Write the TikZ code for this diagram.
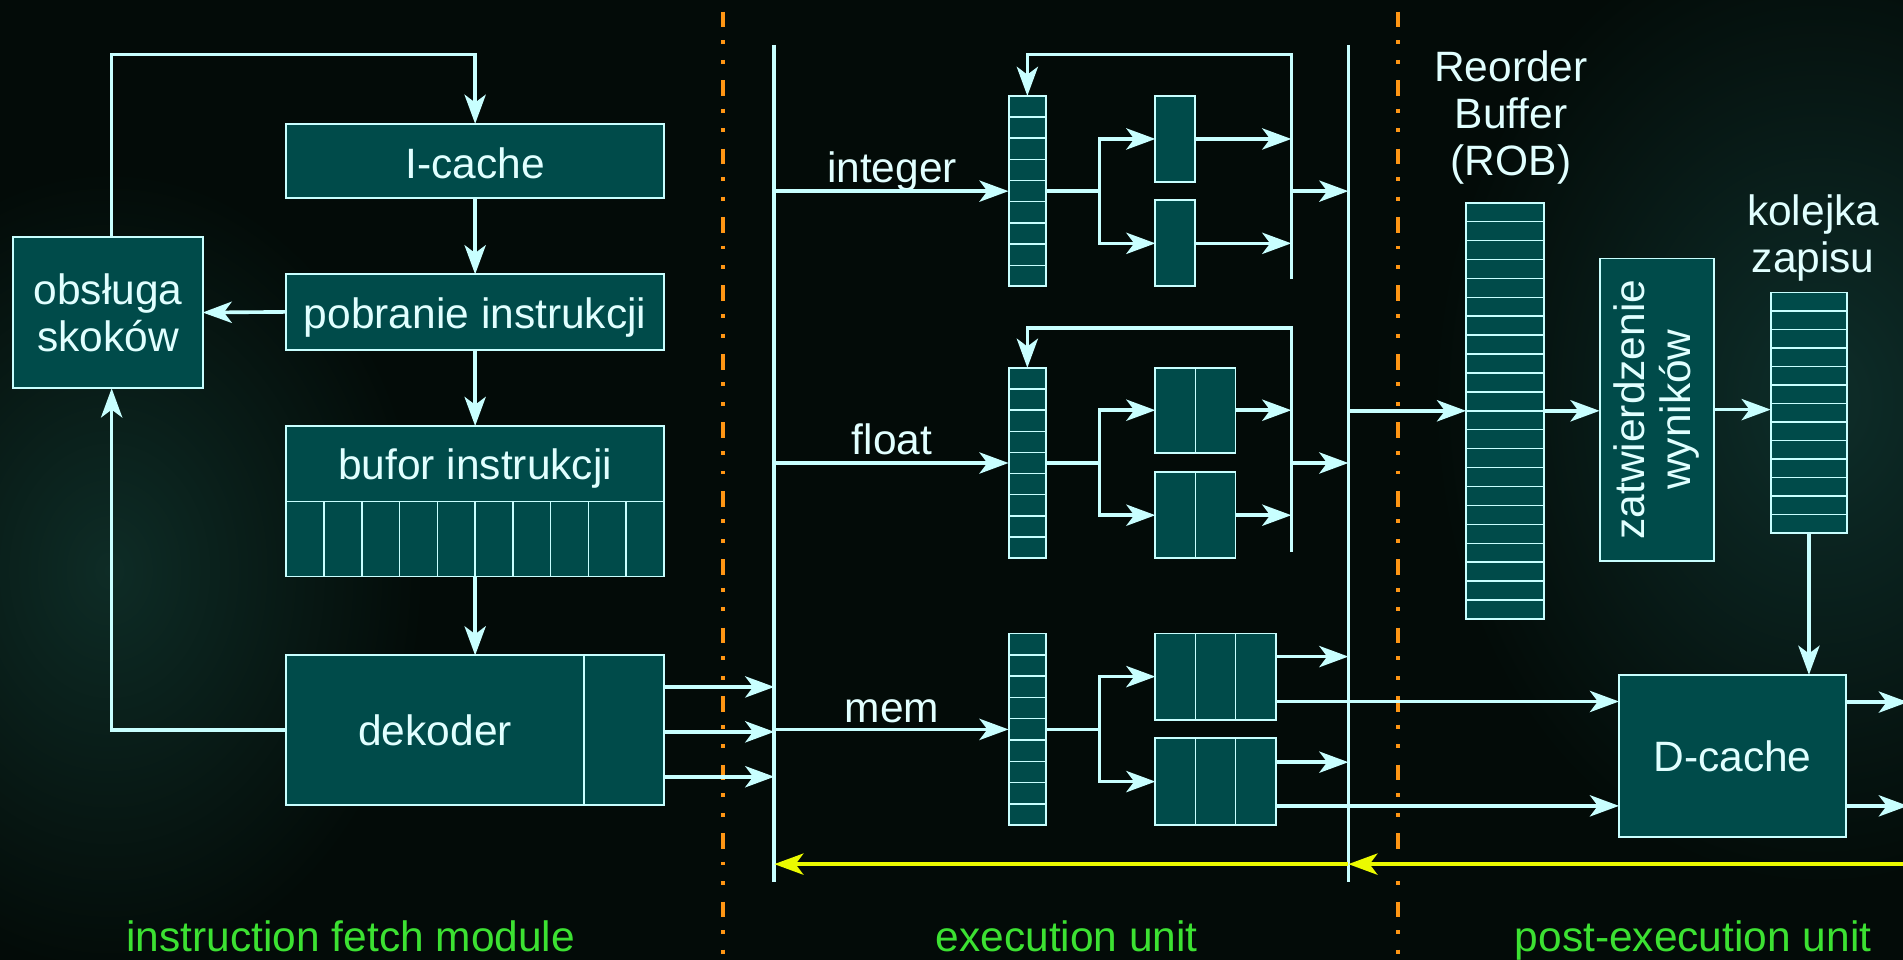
\documentclass[tikz,border=0pt]{standalone}
\usepackage{fontspec}
\setmainfont{Liberation Sans}
\usetikzlibrary{arrows.meta,calc}
\definecolor{bg}{RGB}{3,11,8}
\definecolor{glowL}{RGB}{14,44,38}
\definecolor{glowR}{RGB}{14,46,42}
\definecolor{boxc}{RGB}{0,75,74}
\definecolor{linec}{RGB}{200,255,255}
\definecolor{txtc}{RGB}{225,255,255}
\definecolor{orangec}{RGB}{255,150,20}
\definecolor{yellowc}{RGB}{235,250,0}
\definecolor{greenc}{RGB}{60,225,50}
\begin{document}
\begin{tikzpicture}[x=1pt,y=-1pt,
  every node/.style={font=\fontsize{35}{38.5}\selectfont, text=txtc},
  blk/.style={draw=linec, line width=1.6pt, fill=boxc, inner sep=0pt, outer sep=0pt},
  cell/.style={draw=linec, line width=1.2pt},
  hcells/.style n args={2}{path picture={
    \foreach \k in {1,...,#2}
      \draw[cell] ($(path picture bounding box.north west)!\k/#1!(path picture bounding box.south west)$) --
                  ($(path picture bounding box.north east)!\k/#1!(path picture bounding box.south east)$);}},
  vcells/.style n args={2}{path picture={
    \foreach \k in {1,...,#2}
      \draw[cell] ($(path picture bounding box.north west)!\k/#1!(path picture bounding box.north east)$) --
                  ($(path picture bounding box.south west)!\k/#1!(path picture bounding box.south east)$);}},
  wire/.style={draw=linec, line width=3pt},
  arr/.style={wire, -{Stealth[length=24pt,width=17.5pt,inset=6.5pt]}},
  yarr/.style={draw=yellowc, line width=3pt, -{Stealth[length=24pt,width=17.5pt,inset=6.5pt]}},
  sep/.style={draw=orangec, line width=3.2pt, dash pattern=on 13pt off 10.5pt on 3.2pt off 13pt on 3.2pt off 13.5pt},
  lbl/.style={text=greenc, anchor=base}
]
\useasboundingbox (0,0) rectangle (1568,791);
\fill[bg] (0,0) rectangle (1568,791);
\shade[inner color=glowL, outer color=bg] (90,470) ellipse [x radius=260pt, y radius=330pt];
\shade[inner color=glowR, outer color=bg] (1500,330) ellipse [x radius=320pt, y radius=400pt];

% separators
\draw[sep] (596,9.6) -- (596,791);
\draw[sep] (1152,9.6) -- (1152,791);

% ---------- instruction fetch ----------
\node[blk, minimum width=156pt, minimum height=125pt, align=center] (obs) at (89,257.5) {obsługa\\skoków};
\node[blk, minimum width=311pt, minimum height=61pt] (icache) at (391.5,132.5) {};
\node (icachet) at (391.5,134.5) {I-cache};
\node[blk, minimum width=311pt, minimum height=62pt] (pob) at (391.5,257) {};
\node[text depth=0pt] (pobt) at (391.5,258) {pobranie instrukcji};
\node[blk, minimum width=311pt, minimum height=124pt] (buf) at (391.5,413) {};
\draw[cell] (buf.west) -- (buf.east);
\foreach \k in {1,...,9}
  \draw[cell] ($(buf.west)!\k/10!(buf.east)$) -- ($(buf.south west)!\k/10!(buf.south east)$);
\node[text depth=0pt] (buft) at (391.5,382) {bufor instrukcji};
\node[blk, minimum width=311pt, minimum height=123pt] (dek) at (391.5,601.5) {};
\draw[cell] ($(dek.north east)+(-66,0)$) -- ($(dek.south east)+(-66,0)$);
\node (dekt) at (358.5,601.5) {dekoder};

\coordinate (top1) at (391.5,45);
\draw[arr] ([xshift=3pt]obs.north) |- (top1) -- (icache.north);
\draw[arr] (icache.south) -- (pob.north);
\draw[arr] (pob.west) -- (obs.east);
\draw[arr] (pob.south) -- (buf.north);
\draw[arr] (buf.south) -- (dek.north);
\draw[arr] (dek.west) -| ([xshift=3pt]obs.south);

% ---------- buses ----------
\coordinate (LT) at (638,37);
\coordinate (LB) at (638,727);
\coordinate (RT) at (1111,37);
\coordinate (RB) at (1111,727);
\draw[wire] (LT) -- (LB);
\draw[wire] (RT) -- (RB);

\coordinate (d1) at ($(dek.north east)+(0,26)$);
\coordinate (d2) at ($(dek.east)+(0,1.5)$);
\coordinate (d3) at ($(dek.south east)+(0,-23)$);
\draw[arr] (d1) -- (d1 -| LT);
\draw[arr] (d2) -- (d2 -| LT);
\draw[arr] (d3) -- (d3 -| LT);

% ---------- integer ----------
\node[blk, hcells={9}{8}, minimum width=31pt, minimum height=157pt] (iq) at (846.5,157.5) {};
\node[blk, minimum width=33pt, minimum height=71pt] (iu1) at (968.5,114.5) {};
\node[blk, minimum width=33pt, minimum height=71pt] (iu2) at (968.5,200.5) {};
\node[text depth=0pt] (il) at (735,138) {integer};
\coordinate (ib) at (906,157.5);
\coordinate (ict) at (1064,45);
\coordinate (icb) at (1064,230);
\draw[arr] (iq.west -| LT) -- (iq.west);
\draw[wire] (iq.east) -- (ib);
\draw[arr] (ib) |- (iu1.west);
\draw[arr] (ib) |- (iu2.west);
\draw[arr] (iu1.east) -- (iu1.east -| ict);
\draw[arr] (iu2.east) -- (iu2.east -| ict);
\draw[arr] (icb) -- (ict) -| (iq.north);
\draw[arr] (iq.east -| ict) -- (iq.east -| RT);

% ---------- float ----------
\node[blk, hcells={9}{8}, minimum width=31pt, minimum height=157pt] (fq) at (846.5,381.5) {};
\node[blk, vcells={2}{1}, minimum width=66pt, minimum height=70pt] (fu1) at (985,338) {};
\node[blk, vcells={2}{1}, minimum width=66pt, minimum height=71pt] (fu2) at (985,424.5) {};
\node (fl) at (735,362) {float};
\coordinate (fb) at (906,381.5);
\coordinate (fct) at (1064,270);
\coordinate (fcb) at (1064,455);
\draw[arr] (fq.west -| LT) -- (fq.west);
\draw[wire] (fq.east) -- (fb);
\draw[arr] (fb) |- (fu1.west);
\draw[arr] (fb) |- (fu2.west);
\draw[arr] (fu1.east) -- (fu1.east -| fct);
\draw[arr] (fu2.east) -- (fu2.east -| fct);
\draw[arr] (fcb) -- (fct) -| (fq.north);
\draw[arr] (fq.east -| fct) -- (fq.east -| RT);

% ---------- mem ----------
\node[blk, hcells={9}{8}, minimum width=31pt, minimum height=158pt] (mq) at (846.5,601) {};
\node[blk, vcells={3}{2}, minimum width=99pt, minimum height=71pt] (mu1) at (1001.5,557.5) {};
\node[blk, vcells={3}{2}, minimum width=99pt, minimum height=72pt] (mu2) at (1001.5,644) {};
\node (ml) at (735,586) {mem};
\coordinate (mb) at (906,601);
\draw[arr] (mq.west -| LT) -- (mq.west);
\draw[wire] (mq.east) -- (mb);
\draw[arr] (mb) |- (mu1.west);
\draw[arr] (mb) |- (mu2.west);

% ---------- post-execution ----------
\node[blk, hcells={22}{21}, minimum width=64pt, minimum height=343pt] (rob) at (1240,338.5) {};
\node[align=center] (robl) at (1245,97) {Reorder\\Buffer\\(ROB)};
\node[blk, minimum width=94pt, minimum height=249pt] (zat) at (1365,337.5) {};
\node[rotate=90, align=center] (zatt) at (zat.center) {zatwierdzenie\\wyników};
\node[blk, hcells={13}{12}, minimum width=63pt, minimum height=198pt] (kq) at (1490.5,340) {};
\node[align=center] (kql) at (1494,196) {kolejka\\zapisu};
\node[blk, minimum width=187pt, minimum height=134pt] (dc) at (1427.5,623) {D-cache};

\draw[arr] (rob.west -| RT) -- (rob.west);
\draw[arr] (rob.east) -- (rob.east -| zat.west);
\draw[arr] (zat.east) -- (zat.east -| kq.west);
\draw[arr] (kq.south) -- (kq.south |- dc.north);

\coordinate (m1a) at ($(mu1.north east)+(0,19)$);
\coordinate (m1b) at ($(mu1.south east)+(0,-15)$);
\coordinate (m2a) at ($(mu2.north east)+(0,20)$);
\coordinate (m2b) at ($(mu2.south east)+(0,-16)$);
\draw[arr] (m1a) -- (m1a -| RT);
\draw[arr] (m2a) -- (m2a -| RT);
\draw[arr] (m1b) -- (m1b -| dc.west);
\draw[arr] (m2b) -- (m2b -| dc.west);
\coordinate (o1) at (1572,578.5);
\coordinate (o2) at (1572,664);
\draw[arr] (dc.east |- o1) -- (o1);
\draw[arr] (dc.east |- o2) -- (o2);

% ---------- yellow ----------
\coordinate (ye) at (1568,712);
\coordinate (yr) at (1111,712);
\coordinate (yl) at (638,712);
\draw[yarr] (ye) -- (yr);
\draw[yarr] (yr) -- (yl);

% ---------- section labels ----------
\node[lbl] (l1) at (289,784) {instruction fetch module};
\node[lbl] (l2) at (879,784) {execution unit};
\node[lbl] (l3) at (1395,784) {post-execution unit};
\end{tikzpicture}
\end{document}
